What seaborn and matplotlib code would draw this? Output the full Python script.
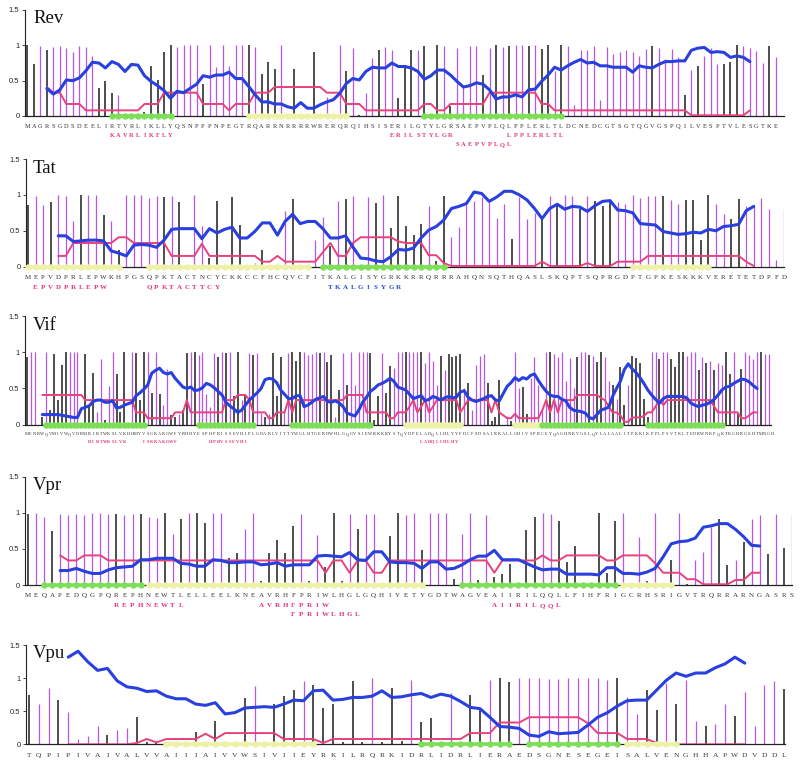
import numpy as np
import pandas as pd
import matplotlib
matplotlib.use("Agg")
import matplotlib.pyplot as plt
import seaborn as sns

# ---------------- Rev ----------------
rev_seq = "MAGRSGDSDEELIRTVRLIKLLYQSNPPPNPEGTRQARRNRRRRWRERQRQIHSISERILGTYLGRSAEPVPLQLPPLERLTLDCNEDCGTSGTQGVGSPQILVESPTVLESGTKE"
rev_bar_h = [1.0, 0.74, 0.99, 0.93, 0.97, 0.99, 0.96, 0.9, 0.99, 0.97,
             0.85, 0.39, 0.49, 0.33, 0.3, 0, 0, 0, 0.05, 0.71,
             0.51, 0.91, 1.0, 0.97, 1.0, 1.0, 1.0, 0.45, 1.0, 0.7,
             1.0, 0.71, 1.0, 1.0, 1.0, 0.97, 0.59, 0.76, 0.66, 1.0,
             0, 0.66, 0, 0, 0.91, 0, 0.27, 0, 1.0, 0.63,
             0.96, 0.01, 0.33, 0.82, 0.93, 0.97, 0.93, 0.25, 0.72, 0.93,
             0.93, 0.99, 0, 1.0, 0.99, 0.14, 0.96, 0.43, 0.99, 0.99,
             0.58, 0.96, 1.0, 0.97, 0.99, 1.0, 1.0, 0.99, 1.0, 0.95,
             1.0, 0.63, 1.0, 0.99, 0.16, 0.93, 0.94, 0.99, 0.23, 0.98,
             0.88, 0.91, 0.93, 0.9, 0.85, 0.95, 0.99, 0.96, 0.81, 0.95,
             0.84, 0.3, 0.65, 0.71, 0.85, 0.96, 0.74, 0.74, 0.76, 1.0,
             0.99, 0.96, 0.92, 0.75, 0.99, 0.83]
rev_bar_c = ("kkpkpppppp" "pkkkpkkkkk" "kkkppppkpp" "ppppkpkkkp" "kkkkkkpkpk"
             "pkppkppkkk" "pkkkpkpppp" "kpkpkppkpk" "kpkppppppp" "ppppppkppp"
             "pkpkpppkkk" "ppppkp")
rev_start = 3
rev_blue = [0.39, 0.31, 0.37, 0.51, 0.5, 0.54, 0.64, 0.76, 0.75, 0.68,
            0.77, 0.73, 0.63, 0.73, 0.72, 0.57, 0.49, 0.43, 0.36, 0.25,
            0.35, 0.33, 0.39, 0.45, 0.57, 0.55, 0.58, 0.58, 0.62, 0.53,
            0.53, 0.42, 0.3, 0.2, 0.2, 0.17, 0.17, 0.13, 0.11, 0.19,
            0.11, 0.11, 0.16, 0.2, 0.23, 0.32, 0.46, 0.53, 0.51, 0.63,
            0.69, 0.68, 0.68, 0.75, 0.7, 0.7, 0.68, 0.63, 0.52, 0.57,
            0.65, 0.65, 0.58, 0.49, 0.41, 0.43, 0.47, 0.45, 0.37, 0.24,
            0.27, 0.27, 0.3, 0.27, 0.37, 0.38, 0.49, 0.58, 0.69, 0.65,
            0.71, 0.76, 0.8, 0.75, 0.76, 0.71, 0.71, 0.69, 0.69, 0.69,
            0.62, 0.71, 0.69, 0.68, 0.73, 0.77, 0.77, 0.78, 0.78, 0.93,
            0.96, 0.97, 0.9, 0.91, 0.9, 0.83, 0.85, 0.83, 0.77]
rev_pink = [0.41, 0.33, 0.33, 0.17, 0.17, 0.17, 0.08, 0.08, 0.08, 0.08,
            0.08, 0.08, 0.08, 0.08, 0.08, 0.17, 0.17, 0.17, 0.33, 0.33,
            0.33, 0.33, 0.33, 0.33, 0.17, 0.17, 0.17, 0.17, 0.08, 0.17,
            0.17, 0.17, 0.33, 0.33, 0.33, 0.41, 0.41, 0.41, 0.41, 0.41,
            0.41, 0.41, 0.41, 0.33, 0.33, 0.33, 0.17, 0.17, 0.17, 0.08,
            0.08, 0.08, 0.08, 0.08, 0.08, 0.08, 0.08, 0.08, 0.17, 0.17,
            0.08, 0.08, 0.17, 0.17, 0.17, 0.17, 0.17, 0.17, 0.33, 0.33,
            0.33, 0.33, 0.33, 0.33, 0.33, 0.33, 0.17, 0.17, 0.08, 0.08,
            0.08, 0.08, 0.08, 0.08, 0.08, 0.08, 0.08, 0.08, 0.08, 0.08,
            0.08, 0.08, 0.08, 0.08, 0.08, 0.08, 0.08, 0.08, 0.08, 0.01,
            0.01, 0.01, 0.01, 0.01, 0.01, 0.01, 0.01, 0.01, 0.08]
rev_green = [(13, 22), (61, 82)]
rev_yellow = [(34, 49)]
rev_epitopes = [("KAVRLIKFLY", 13, 0, "p"), ("ERILSTYLGR", 56, 0, "p"),
                ("SAEPVPLQL", 66, 1, "p"), ("LPPLERLTL", 74, 0, "p")]

# ---------------- Tat ----------------
tat_seq = "MEPVDPRLEPWKHPGSQPKTACTNCYCKKCCFHCQVCFITKALGISYGRKKRRQRRRAHQNSQTHQASLSKQPTSQPRGDPTGPKESKKKVERETETDPFD"
tat_bar_h = [0.86, 0.98, 0.86, 0.9, 1.0, 0.98, 0.63, 1.0, 1.0, 1.0,
             0.72, 0.64, 0.23, 1.0, 1.0, 1.0, 0.95, 0.99, 0.97, 0.98,
             0.9, 0, 1.0, 0.56, 0.12, 0.91, 0, 0.97, 0.58, 0,
             0.05, 0.23, 0, 0, 0.77, 0.94, 0, 0, 0.37, 0.69,
             0.29, 0.92, 0.94, 0.99, 0, 0.97, 0.89, 1.0, 0.54, 0.98,
             0.56, 0.44, 0.6, 0.85, 0.08, 0.99, 0.42, 0.55, 0.91, 0.91,
             0.97, 0.9, 0.68, 0.87, 0.38, 0.97, 0.67, 0.75, 0.68, 0.99,
             0.88, 1.0, 0.99, 0.81, 0.99, 0.91, 0.85, 0.93, 0.9, 0.87,
             1.0, 0.95, 0.98, 0.99, 0.99, 0.93, 0.87, 0.93, 0.93, 0.37,
             1.0, 0.87, 0.73, 0.66, 0.94, 0.84, 0.84, 0.95, 0.8, 0.09,
             0.81]
tat_bar_c = ("kppkpppkpp" "kpkppppvkp".replace("v", "p") + "kkppkkkkkk" "pkkkpkkkpp"
             "kpkpkpkpkk" "kkkpkkpppp" "ppppkpppkp" "kppkpkkkpp" "ppppkppkkk"
             "kppkkppppp" "p")
tat_start = 4
tat_blue = [0.43, 0.43, 0.35, 0.36, 0.37, 0.37, 0.36, 0.22, 0.19, 0.15,
            0.3, 0.31, 0.3, 0.27, 0.37, 0.52, 0.53, 0.53, 0.53, 0.39,
            0.53, 0.47, 0.52, 0.55, 0.4, 0.4, 0.49, 0.61, 0.61, 0.44,
            0.63, 0.73, 0.6, 0.63, 0.63, 0.53, 0.4, 0.4, 0.43, 0.27,
            0.12, 0.11, 0.08, 0.07, 0.14, 0.24, 0.23, 0.26, 0.4, 0.51,
            0.56, 0.65, 0.81, 0.84, 0.88, 1.04, 1.02, 0.91, 0.97, 1.05,
            1.05, 1.0, 0.93, 0.81, 0.67, 0.81, 0.87, 0.8, 0.84, 0.83,
            0.77, 0.85, 0.91, 0.92, 0.79, 0.78, 0.75, 0.6, 0.59, 0.58,
            0.49, 0.47, 0.45, 0.46, 0.48, 0.47, 0.52, 0.5, 0.56, 0.57,
            0.59, 0.78, 0.84]
tat_pink = [0.15, 0.15, 0.33, 0.33, 0.33, 0.33, 0.33, 0.33, 0.41, 0.41,
            0.33, 0.33, 0.33, 0.33, 0.33, 0.15, 0.15, 0.15, 0.15, 0.32,
            0.15, 0.15, 0.15, 0.15, 0.15, 0.15, 0.15, 0.07, 0.07, 0.15,
            0.07, 0.07, 0.07, 0.07, 0.07, 0.2, 0.33, 0.15, 0.15, 0.33,
            0.41, 0.41, 0.41, 0.41, 0.41, 0.35, 0.33, 0.33, 0.33, 0.16,
            0.16, 0.05, 0.01, 0.01, 0.01, 0.01, 0.01, 0.01, 0.01, 0.01,
            0.01, 0.01, 0.01, 0.01, 0.07, 0.01, 0.01, 0.01, 0.01, 0.01,
            0.05, 0.01, 0.01, 0.01, 0.07, 0.07, 0.07, 0.07, 0.15, 0.15,
            0.15, 0.15, 0.15, 0.15, 0.15, 0.15, 0.15, 0.15, 0.15, 0.15,
            0.15, 0.07, 0.01]
tat_green = [(39, 55)]
tat_yellow = [(0, 12), (16, 37), (80, 90)]
tat_epitopes = [("EPVDPRLEPW", 1, 0, "p"), ("QPKTACTTCY", 16, 0, "p"),
                ("TKALGISYGR", 40, 0, "b")]

# ---------------- Vif ----------------
vif_seq = ("MENRWQVMIVWQVDRMRIRTWKSLVKHHMYVSGKARGWFYRHHYESPHPRISSEVHIPLGDARLVITTYW"
           "GLHTGERDWHLGQGVSIEWRKKRYSTQVDPELADQLIHLYYFDCFSDSAIRKALLGHIVSPRCEYQAGHN"
           "KVGSLQYLALAALITPKKIKPPLPSVTKLTEDRWNKPQKTKGHRGSHTMNGH")
vif_bar_h = [0.94, 1.0, 1.0, 0, 0.11, 1.0, 0.2, 0.98, 0.34, 0.82,
             1.0, 1.0, 1.0, 1.0, 0, 0.97, 0.25, 0.72, 0.18, 0.9,
             0.06, 0.53, 1.0, 0.7, 0.18, 1.0, 0, 1.0, 0.99, 0.34,
             1.0, 1.0, 0.44, 1.0, 0.43, 0.27, 0.77, 0.13, 0.1, 0.15,
             0.2, 0.99, 1.0, 1.0, 0.96, 1.0, 0.43, 0.25, 0.99, 0.94,
             1.0, 0.99, 1.0, 0.4, 1.0, 0.34, 0.39, 0.99, 0.96, 0.99,
             0.16, 0.11, 0.15, 0.99, 0.4, 0.94, 0.18, 0.99, 1.0, 0.88,
             1.0, 1.0, 0.96, 0.97, 1.0, 0.99, 1.0, 0.86, 0.96, 0.11,
             0.48, 0.99, 0.55, 1.0, 0.55, 1.0, 1.0, 1.0, 0.99, 0.06,
             0.4, 0.99, 0.44, 0.81, 0.78, 1.0, 1.0, 1.0, 1.0, 1.0,
             1.0, 1.0, 0.85, 1.0, 0.88, 0.55, 0.95, 0.75, 0.98, 0.93,
             0.95, 0.98, 0.5, 0.58, 0.2, 0.82, 0.95, 0.97, 0.58, 0.05,
             0.1, 0.62, 0, 0.12, 0.05, 1.0, 0.5, 0.52, 0.15, 0.65,
             0.93, 0.55, 0.2, 1.0, 1.0, 0.98, 0.93, 1.0, 0.6, 0.92,
             0.5, 0.93, 1.0, 1.0, 0.96, 0.95, 0.87, 1.0, 0.93, 0.6,
             0.55, 0.35, 0.8, 0.27, 0.55, 0.95, 0.92, 0.85, 0.35, 0.1,
             1.0, 1.0, 0.9, 1.0, 1.0, 0.9, 0.8, 1.0, 1.0, 0.95,
             1.0, 1.0, 0.75, 0.93, 0.85, 0.88, 0.75, 0.85, 0.83, 1.0,
             0.7, 1.0, 0.15, 0.77, 1.0, 0.96, 0.9, 1.0, 1.0, 0.97,
             0.97, 0]
vif_bar_c = ("kppkkpkkkk" "kpppkkkkpp" "kppkkkkpkk" "kpkpkppkkp" "kkpkpppppk"
             "pkpkkpkpkp" "pkpkkkppkk" "kppppkpkkp" "kpkppppPkk".replace("P", "p")
             + "kpkkpppkpp" "pkppppkpkk" "kkpkppppkk" "kkkpkppkkp" "pppPkppppp".replace("P", "p")
             + "pkppkpkkpp" "kpkkpkkkkk" "ppkppkkkkp" "ppkpkpkppk" "kpkkppppkp" "pk")
vif_start = 4
vif_blue = [0.14, 0.14, 0.14, 0.14, 0.14, 0.13, 0.12, 0.11, 0.1, 0.1,
            0.22, 0.24, 0.26, 0.32, 0.34, 0.34, 0.31, 0.31, 0.33, 0.23,
            0.24, 0.27, 0.29, 0.31, 0.4, 0.44, 0.49, 0.55, 0.71, 0.75,
            0.78, 0.72, 0.7, 0.72, 0.64, 0.58, 0.52, 0.5, 0.52, 0.47,
            0.48, 0.51, 0.57, 0.55, 0.51, 0.46, 0.41, 0.31, 0.26, 0.22,
            0.17, 0.2, 0.27, 0.34, 0.39, 0.44, 0.5, 0.62, 0.64, 0.63,
            0.58, 0.48, 0.42, 0.36, 0.36, 0.4, 0.4, 0.25, 0.27, 0.31,
            0.35, 0.37, 0.39, 0.32, 0.31, 0.33, 0.3, 0.25, 0.16, 0.14,
            0.12, 0.2, 0.31, 0.38, 0.46, 0.5, 0.55, 0.57, 0.6, 0.64,
            0.6, 0.52, 0.5, 0.48, 0.42, 0.36, 0.38, 0.4, 0.33, 0.35,
            0.39, 0.37, 0.34, 0.37, 0.39, 0.37, 0.38, 0.45, 0.47, 0.38,
            0.34, 0.32, 0.34, 0.36, 0.39, 0.4, 0.34, 0.33, 0.43, 0.53,
            0.58, 0.65, 0.61, 0.65, 0.63, 0.68, 0.7, 0.61, 0.53, 0.46,
            0.41, 0.39, 0.39, 0.35, 0.33, 0.24, 0.2, 0.19, 0.18, 0.16,
            0.1, 0.08, 0.14, 0.2, 0.22, 0.24, 0.39, 0.5, 0.6, 0.76,
            0.84, 0.77, 0.72, 0.65, 0.57, 0.48, 0.41, 0.35, 0.3, 0.36,
            0.39, 0.39, 0.39, 0.39, 0.39, 0.37, 0.3, 0.27, 0.25, 0.27,
            0.28, 0.31, 0.35, 0.41, 0.48, 0.52, 0.53, 0.57, 0.6, 0.63,
            0.62, 0.59, 0.54, 0.5]
vif_pink = [0.41, 0.41, 0.41, 0.41, 0.41, 0.41, 0.41, 0.41, 0.41, 0.41,
            0.41, 0.34, 0.34, 0.34, 0.34, 0.34, 0.34, 0.34, 0.34, 0.34,
            0.34, 0.34, 0.34, 0.34, 0.17, 0.17, 0.17, 0.09, 0.09, 0.09,
            0.09, 0.09, 0.09, 0.09, 0.17, 0.17, 0.17, 0.34, 0.17, 0.17,
            0.17, 0.17, 0.17, 0.17, 0.17, 0.17, 0.17, 0.34, 0.34, 0.34,
            0.41, 0.41, 0.41, 0.34, 0.17, 0.17, 0.17, 0.17, 0.09, 0.09,
            0.17, 0.17, 0.17, 0.34, 0.17, 0.34, 0.34, 0.34, 0.34, 0.34,
            0.34, 0.34, 0.34, 0.34, 0.34, 0.34, 0.34, 0.34, 0.41, 0.41,
            0.41, 0.41, 0.41, 0.17, 0.17, 0.17, 0.17, 0.17, 0.17, 0.09,
            0.09, 0.17, 0.17, 0.17, 0.25, 0.34, 0.17, 0.25, 0.34, 0.17,
            0.25, 0.34, 0.34, 0.34, 0.34, 0.34, 0.34, 0.17, 0.25, 0.34,
            0.34, 0.34, 0.34, 0.34, 0.34, 0.17, 0.34, 0.17, 0.13, 0.09,
            0.09, 0.15, 0.09, 0.09, 0.09, 0.09, 0.09, 0.09, 0.2, 0.34,
            0.17, 0.34, 0.17, 0.34, 0.34, 0.34, 0.34, 0.41, 0.41, 0.41,
            0.41, 0.41, 0.41, 0.37, 0.34, 0.25, 0.17, 0.17, 0.13, 0.04,
            0.04, 0.1, 0.1, 0.1, 0.12, 0.17, 0.17, 0.25, 0.34, 0.27,
            0.34, 0.34, 0.34, 0.34, 0.34, 0.34, 0.34, 0.34, 0.34, 0.34,
            0.34, 0.34, 0.25, 0.17, 0.17, 0.17, 0.17, 0.17, 0.17, 0.09,
            0.09, 0.13, 0.17, 0.17]
vif_green = [(5, 30), (44, 58), (68, 88), (132, 152), (159, 178)]
vif_yellow = [(97, 111), (125, 131)]
vif_epitopes = [("RIRTWKSLVK", 16, 0, "p"), ("ISKKAKGWF", 30, 0, "p"),
                ("HPRVSSEVHI", 47, 0, "p"), ("LADQLIHLHY", 101, 0, "p")]

# ---------------- Vpr ----------------
vpr_seq = "MEQAPEDQGPQREPHNEWTLELLEELKNEAVRHFPRIWLHGLGQHIYETYGDTWAGVEAIIRILQQLLFIHFRIGCRHSRIGVTRQRRARNGASRS"
vpr_bar_h = [0.98, 1.0, 0.94, 0.75, 0.99, 0.97, 0.99, 0.97, 1.0, 1.0,
             0.98, 0.98, 0.97, 0.99, 0.99, 0.94, 0.93, 1.0, 0.71, 0.91,
             1.0, 1.0, 0.86, 1.0, 1.0, 0.38, 0.44, 0.77, 1.0, 0.06,
             0.45, 0.63, 0.44, 0.82, 0.98, 0.05, 0.69, 0.25, 1.0, 0.06,
             0.99, 0.77, 0.99, 0.98, 0, 0.68, 1.0, 0.97, 1.0, 0.49,
             1.0, 1.0, 1.0, 0.08, 0.71, 1.0, 0.07, 0.97, 0.11, 0.15,
             0.29, 0, 0.76, 0.94, 1.0, 0.99, 0.88, 0.32, 0.54, 0,
             0, 1.0, 0.17, 0.88, 1.0, 0, 0.66, 0.05, 1.0, 0,
             0.35, 1.0, 0.02, 0.35, 0.46, 0.81, 0.92, 0.28, 0.35, 0.6,
             0.92, 0.97, 0.43, 0.98, 0.51, 0.99]
vpr_bar_c = ("kppkpppppp" "pkppkppkpk" "pkkppkkppk" "kkkkpkpkkk" "pkppkkkppk"
             "pppkppkpkk" "kkkkppkkkk" "kkkkpkpkpk" "kpkpppkkpk" "ppkpkp")
vpr_start = 4
vpr_blue = [0.2, 0.2, 0.23, 0.19, 0.16, 0.16, 0.21, 0.24, 0.25, 0.26,
            0.35, 0.35, 0.37, 0.37, 0.37, 0.3, 0.29, 0.26, 0.26, 0.35,
            0.34, 0.31, 0.31, 0.32, 0.32, 0.28, 0.29, 0.31, 0.26, 0.28,
            0.28, 0.28, 0.4, 0.41, 0.4, 0.39, 0.45, 0.35, 0.34, 0.46,
            0.46, 0.32, 0.31, 0.31, 0.3, 0.23, 0.32, 0.32, 0.22, 0.23,
            0.28, 0.35, 0.4, 0.4, 0.48, 0.35, 0.35, 0.35, 0.3, 0.25,
            0.21, 0.22, 0.22, 0.15, 0.15, 0.15, 0.15, 0.14, 0.24, 0.24,
            0.16, 0.16, 0.15, 0.18, 0.23, 0.39, 0.57, 0.6, 0.61, 0.65,
            0.8, 0.82, 0.85, 0.85, 0.77, 0.67, 0.55, 0.54]
vpr_pink = [0.41, 0.34, 0.34, 0.41, 0.41, 0.41, 0.34, 0.34, 0.34, 0.34,
            0.34, 0.34, 0.34, 0.34, 0.34, 0.34, 0.34, 0.34, 0.34, 0.34,
            0.34, 0.34, 0.34, 0.34, 0.34, 0.34, 0.34, 0.34, 0.34, 0.34,
            0.34, 0.34, 0.34, 0.17, 0.34, 0.34, 0.17, 0.34, 0.34, 0.17,
            0.17, 0.34, 0.34, 0.34, 0.34, 0.34, 0.34, 0.34, 0.34, 0.34,
            0.34, 0.34, 0.34, 0.34, 0.17, 0.34, 0.34, 0.34, 0.34, 0.34,
            0.41, 0.34, 0.34, 0.41, 0.41, 0.41, 0.41, 0.41, 0.34, 0.34,
            0.41, 0.41, 0.41, 0.41, 0.3, 0.17, 0.17, 0.17, 0.08, 0.08,
            0.01, 0.01, 0.01, 0.01, 0.07, 0.07, 0.17, 0.17]
vpr_green = [(2, 14), (54, 73)]
vpr_yellow = [(15, 49), (74, 80)]
vpr_epitopes = [("REPHNEWTL", 11, 0, "p"), ("AVRHFPRIW", 29, 0, "p"),
                ("FPRIWLHGL", 33, 1, "p"), ("AIIRILQQL", 58, 0, "p")]

# ---------------- Vpu ----------------
vpu_seq = "TQPIPIVAIVALVVAIIIAIVVWSIVIIEYRKILRQRKIDRLIDRLIERAEDSGNESEGEISALVENGHHAPWDVDDL"
vpu_bar_h = [0.75, 0.61, 0.86, 0.67, 0.49, 0.08, 0.13, 0.28, 0.14, 0.21,
             0.24, 0.42, 0.03, 0.03, 0, 0, 0, 0.18, 0, 0.35,
             0, 0, 0.7, 0.89, 0, 0.61, 0.73, 0.83, 0.96, 0.9,
             0.55, 0.61, 0.04, 0.96, 0.04, 1.0, 0.04, 0.86, 0.05, 0.97,
             0.34, 0.4, 0, 0.77, 0, 0.75, 0.52, 0.98, 1.0, 0.95,
             1.0, 1.0, 1.0, 0.99, 0.99, 1.0, 1.0, 1.0, 1.0, 0.97,
             1.0, 0.71, 0.46, 0.83, 0.52, 0.93, 0.61, 0.97, 0.35, 0.28,
             0.31, 0.61, 0.43, 0.8, 0.28, 0.9, 0.96, 0.84]
vpu_bar_c = ("kppkppppkp" "pkkkkkkkkk" "kkkpkkkkpk" "kkkkkpkkkp" "kkkpkkkpkk"
             "pppppppppp" "kppkkpkppk" "ppkppppk")
vpu_start = 4
vpu_blue = [1.32, 1.41, 1.25, 1.12, 1.15, 0.96, 0.87, 0.85, 0.8, 0.81,
            0.73, 0.69, 0.69, 0.61, 0.59, 0.63, 0.46, 0.48, 0.55, 0.56,
            0.57, 0.56, 0.61, 0.67, 0.66, 0.81, 0.82, 0.67, 0.68, 0.71,
            0.71, 0.73, 0.81, 0.71, 0.72, 0.75, 0.77, 0.71, 0.76, 0.73,
            0.65, 0.56, 0.54, 0.41, 0.27, 0.26, 0.24, 0.14, 0.12, 0.19,
            0.16, 0.17, 0.18, 0.29, 0.41, 0.48, 0.58, 0.66, 0.67, 0.67,
            0.82, 0.97, 1.08, 1.03, 1.08, 1.08, 1.16, 1.22, 1.32, 1.23]
vpu_pink = [0, 0, 0, 0, 0, 0, 0, 0.02, 0.08, 0.03,
            0.08, 0.08, 0.08, 0.08, 0.16, 0.08, 0.17, 0.17, 0.17, 0.17,
            0.17, 0.17, 0.08, 0.08, 0.08, 0.08, 0.02, 0.08, 0.08, 0.08,
            0.08, 0.08, 0.08, 0.08, 0.08, 0.08, 0.08, 0.08, 0.08, 0.08,
            0.08, 0.17, 0.17, 0.17, 0.33, 0.33, 0.33, 0.41, 0.41, 0.41,
            0.41, 0.41, 0.41, 0.32, 0.17, 0.17, 0.17, 0.08, 0.08, 0.08,
            0.02, 0, 0, 0, 0, 0, 0, 0, 0, 0]
vpu_green = [(40, 49), (51, 60)]
vpu_yellow = [(14, 29), (61, 66)]
vpu_epitopes = []

# colours
BLUE = "#2a40de"
PINK = "#e8417c"
PURPLE = "#b456e6"
BLACK = "#1c1c1c"
GREEN = "#7ddf58"
YELLOW = "#eef2a6"
EPI = {"p": "#e2347c", "b": "#2a46d8"}
BAR = {"k": BLACK, "p": PURPLE}

panels = [
    ("Rev", rev_seq, rev_bar_h, rev_bar_c, rev_start, rev_blue, rev_pink, rev_green, rev_yellow, rev_epitopes),
    ("Tat", tat_seq, tat_bar_h, tat_bar_c, tat_start, tat_blue, tat_pink, tat_green, tat_yellow, tat_epitopes),
    ("Vif", vif_seq, vif_bar_h, vif_bar_c, vif_start, vif_blue, vif_pink, vif_green, vif_yellow, vif_epitopes),
    ("Vpr", vpr_seq, vpr_bar_h, vpr_bar_c, vpr_start, vpr_blue, vpr_pink, vpr_green, vpr_yellow, vpr_epitopes),
    ("Vpu", vpu_seq, vpu_bar_h, vpu_bar_c, vpu_start, vpu_blue, vpu_pink, vpu_green, vpu_yellow, vpu_epitopes),
]

# layout in pixels: axis left, axis right, y of 0, y of 1.5, x of residue 0, step,
# title baseline, letter size, letter offset, epitope offsets, segment width
layout = {
    "Rev": dict(l=25, r=784, y0=116, y15=10, x0=27.3, s=6.51, tb=23, fs=4.6, off=10.5, ep=(19.5, 28.5), lw=2.6),
    "Tat": dict(l=26, r=784, y0=266.7, y15=159, x0=28, s=7.56, tb=173, fs=5.0, off=10.5, ep=(20.5, 29.5), lw=2.6),
    "Vif": dict(l=25, r=771, y0=424.7, y15=316, x0=26.7, s=3.906, tb=330, fs=3.2, off=9.5, ep=(17.0, 25.0), lw=3.6),
    "Vpr": dict(l=25, r=792, y0=585, y15=476.7, x0=28, s=8.04, tb=490, fs=5.0, off=10.7, ep=(20.7, 30.0), lw=2.6),
    "Vpu": dict(l=26, r=785, y0=744.3, y15=645.3, x0=29, s=9.805, tb=658, fs=5.4, off=11.4, ep=(21, 30), lw=2.6),
}

sns.set_style("white")
plt.rcParams["font.family"] = ["Liberation Sans", "DejaVu Sans"]

W, H = 800, 766
fig = plt.figure(figsize=(W / 100, H / 100), dpi=100)

for name, seq, bar_h, bar_c, start, blue, pink, green, yellow, epitopes in panels:
    L = layout[name]
    assert len(bar_h) == len(seq) and len(bar_c) == len(seq), (name, len(seq), len(bar_h), len(bar_c))
    assert len(blue) == len(pink), (name, len(blue), len(pink))
    ax = fig.add_axes([L["l"] / W, 1 - L["y0"] / H, (L["r"] - L["l"]) / W, (L["y0"] - L["y15"]) / H])
    n = len(seq)
    pos = np.arange(n)

    # bars
    ax.vlines(pos, 0, bar_h, colors=[BAR[c] for c in bar_c],
              linewidths=[1.1 if c == "k" else 0.9 for c in bar_c], zorder=1)

    # lines
    df = pd.DataFrame({"pos": start + np.arange(len(blue)), "blue": blue, "pink": pink})
    sns.lineplot(data=df, x="pos", y="pink", ax=ax, color=PINK, linewidth=1.4, zorder=3)
    sns.lineplot(data=df, x="pos", y="blue", ax=ax, color=BLUE, linewidth=2.2, zorder=4)

    # structure segments on the axis
    for segs, col in ((yellow, YELLOW), (green, GREEN)):
        for a, b in segs:
            xs = np.arange(a, b + 1)
            ax.plot(xs, np.zeros(len(xs)), color=col, lw=L["lw"], marker="o", ms=3.6,
                    mec=col, solid_capstyle="round", clip_on=False, zorder=5)

    # sequence letters
    for i, ch in enumerate(seq):
        ax.annotate(ch, (i, 0), xytext=(0, -L["off"] * 0.72), textcoords="offset points",
                    ha="center", va="center", fontsize=L["fs"], family="Liberation Serif",
                    color="#333333", annotation_clip=False)
    for text, st, row, col in epitopes:
        for k, ch in enumerate(text):
            ax.annotate(ch, (st + k, 0), xytext=(0, -L["ep"][row] * 0.72), textcoords="offset points",
                        ha="center", va="center", fontsize=L["fs"], family="Liberation Serif",
                        fontweight="bold", color=EPI[col], annotation_clip=False)

    ax.set_xlim((L["l"] - L["x0"]) / L["s"], (L["r"] - L["x0"]) / L["s"])
    ax.set_ylim(0, 1.5)
    ax.set_xticks([])
    ax.set_yticks([0, 0.5, 1, 1.5])
    ax.set_yticklabels(["0", "0.5", "1", "1.5"])
    ax.tick_params(axis="y", direction="out", length=2.5, width=0.6, pad=1.5, labelsize=5.5, left=True)
    ax.set_xlabel("")
    ax.set_ylabel("")
    for sp in ("top", "right"):
        ax.spines[sp].set_visible(False)
    ax.spines["left"].set_linewidth(0.8)
    ax.spines["bottom"].set_linewidth(0.9)
    ax.spines["left"].set_color("#222222")
    ax.spines["bottom"].set_color("#222222")
    ax.patch.set_alpha(0)

    fig.text(33 / W, 1 - L["tb"] / H, name, fontsize=13.5, family="Liberation Serif",
             va="baseline", ha="left", color="#111111")

fig.savefig("out.png", dpi=100)
